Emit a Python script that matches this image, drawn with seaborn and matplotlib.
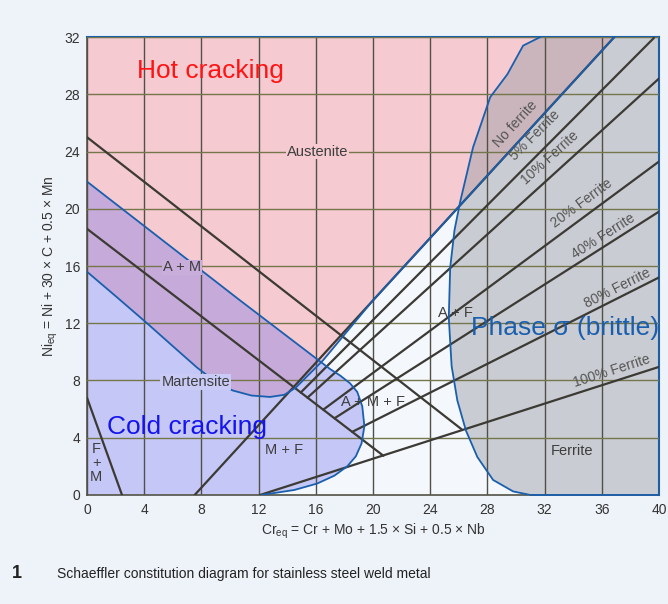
import numpy as np
import pandas as pd
import matplotlib
matplotlib.use('Agg')
import matplotlib.pyplot as plt
import seaborn as sns

# axis ticks
cr_ticks = list(range(0, 41, 4))
ni_ticks = list(range(0, 33, 4))

# phase boundary lines (start / end points, Cr_eq, Ni_eq)
bnd_names = ['A / A+M', 'A+M / M', 'F+M']
bnd_x0 = [0.0, 0.0, 0.0]
bnd_y0 = [25.0, 18.6, 6.8]
bnd_x1 = [26.2, 20.73, 2.45]
bnd_y1 = [4.59, 2.74, 0.0]

# iso-ferrite lines
fer_names = ['No ferrite', '5% Ferrite', '10% Ferrite', '20% Ferrite',
             '40% Ferrite', '80% Ferrite', '100% Ferrite']
fer_x0 = [7.53, 14.95, 15.42, 16.52, 17.31, 18.55, 12.1]
fer_y0 = [0.0, 7.16, 6.80, 5.96, 5.36, 4.41, 0.0]
fer_x1 = [36.88, 39.65, 40.0, 40.0, 40.0, 40.0, 40.0]
fer_y1 = [32.0, 31.94, 29.1, 23.3, 19.8, 15.2, 8.95]
# label centres
fer_lx = [29.95, 31.35, 32.4, 34.6, 36.1, 37.1, 36.7]
fer_ly = [25.9, 25.1, 23.55, 20.4, 18.1, 14.45, 8.65]

# hot cracking (austenite) zone outline
hot_x = [0, 36.88, 20.0, 16.5, 15.4, 14.6, 13.8, 12.8, 11.5, 10.2, 9.0, 7.7, 6.0, 4.2, 2.0, 0]
hot_y = [32, 32, 13.6, 9.4, 8.3, 7.5, 7.0, 6.85, 6.95, 7.3, 7.9, 8.9, 10.4, 12.0, 13.9, 15.6]

# cold cracking zone outline
cold_x = [0, 0, 10.7, 17.0, 17.7, 18.4, 18.9, 19.25, 19.4, 19.2, 18.8, 18.2, 17.3, 16.1, 14.5, 12.2]
cold_y = [0, 21.9, 13.6, 8.8, 8.35, 7.8, 7.2, 6.2, 4.8, 3.6, 2.7, 2.0, 1.35, 0.8, 0.35, 0]

# sigma phase zone outline
sig_x = [31.7, 40, 40, 31.0, 29.8, 28.4, 27.3, 26.5, 25.9, 25.5, 25.3, 25.4, 25.7, 26.1, 27.0, 28.2, 29.4, 30.5]
sig_y = [32, 32, 0, 0, 0.25, 1.05, 2.65, 4.5, 6.6, 9.0, 12.4, 15.9, 18.5, 20.5, 24.3, 27.8, 29.4, 31.4]

sns.set_theme(style='white')
plt.rcParams['font.family'] = ['Liberation Sans', 'DejaVu Sans']

fig = plt.figure(figsize=(6.68, 6.04), dpi=100, facecolor='#eef3f9')
ax = fig.add_axes([0.1302, 0.1805, 0.8563, 0.7582])
ax.set_facecolor('#f4f7fc')
ax.set_xlim(0, 40)
ax.set_ylim(0, 32)

blue = '#1a5fae'
dark = '#3c3a34'

# zones
ax.fill(hot_x, hot_y, color='#f5cad0', lw=0, zorder=1)
ax.fill(sig_x, sig_y, color='#9a9fa6', alpha=0.48, lw=0, zorder=1.2)
ax.fill(cold_x, cold_y, color='#7474ee', alpha=0.36, lw=0, zorder=1.4)

# grid
ax.set_xticks(cr_ticks)
ax.set_yticks(ni_ticks)
ax.set_axisbelow(False)
ax.xaxis.grid(True, color='#505048', lw=1.0)
ax.yaxis.grid(True, color='#76764c', lw=1.0)

# phase lines
bnd = pd.DataFrame({'line': bnd_names * 2,
                    'x': bnd_x0 + bnd_x1, 'y': bnd_y0 + bnd_y1})
sns.lineplot(data=bnd, x='x', y='y', units='line', estimator=None, sort=False,
             color=dark, lw=1.6, ax=ax, zorder=3)
fer = pd.DataFrame({'line': fer_names * 2,
                    'x': fer_x0 + fer_x1, 'y': fer_y0 + fer_y1})
sns.lineplot(data=fer, x='x', y='y', units='line', estimator=None, sort=False,
             color=dark, lw=1.6, ax=ax, zorder=3)

# zone outlines
ax.plot(hot_x[1:], hot_y[1:], color=blue, lw=1.3, zorder=4)
ax.plot(cold_x[1:], cold_y[1:], color=blue, lw=1.3, zorder=4)
ax.plot(sig_x[3:] + sig_x[:1], sig_y[3:] + sig_y[:1], color=blue, lw=1.3, zorder=4)
ax.plot([31.0, 40], [0, 0], color=blue, lw=1.3, zorder=4, clip_on=False)

# ferrite labels along lines
for name, x0, y0, x1, y1, lx, ly in zip(fer_names, fer_x0, fer_y0, fer_x1, fer_y1, fer_lx, fer_ly):
    p0 = ax.transData.transform((x0, y0))
    p1 = ax.transData.transform((x1, y1))
    ang = np.degrees(np.arctan2(p1[1] - p0[1], p1[0] - p0[0]))
    ax.text(lx, ly, name, rotation=ang, rotation_mode='anchor', ha='center', va='center',
            fontsize=10, color='#555555', zorder=5)

lab = dict(fontsize=10.5, color='#3d3d3d', ha='center', va='center', zorder=5)
ax.text(16.1, 24.0, 'Austenite', bbox=dict(fc='#f5cad0', ec='none', pad=0.6), **lab)
ax.text(6.63, 15.9, 'A + M', bbox=dict(fc='#c9addb', ec='none', pad=0.6), **lab)
ax.text(7.6, 7.9, 'Martensite', bbox=dict(fc='#c9cbf6', ec='none', pad=0.6), **lab)
ax.text(20.0, 6.5, 'A + M + F', **lab)
ax.text(13.8, 3.15, 'M + F', **lab)
ax.text(25.8, 12.7, 'A + F', **lab)
ax.text(33.95, 3.1, 'Ferrite', **lab)
ax.text(0.65, 2.25, 'F\n+\nM', linespacing=1.0, **lab)

ax.text(8.6, 29.6, 'Hot cracking', color='#ff1414', fontsize=19, ha='center', va='center', zorder=6)
ax.text(7.0, 4.75, 'Cold cracking', color='#1414ee', fontsize=19, ha='center', va='center', zorder=6)
ax.text(33.4, 11.7, 'Phase σ (brittle)', color=blue, fontsize=19, ha='center', va='center', zorder=6)

ax.tick_params(length=0, labelsize=10, colors='#333333')
ax.tick_params(axis='x', pad=6)
ax.tick_params(axis='y', pad=5)
ax.set_xlabel(r'Cr$\mathregular{_{eq}}$ = Cr + Mo + 1.5 × Si + 0.5 × Nb', fontsize=10, color='#333333', labelpad=3)
ax.set_ylabel(r'Ni$\mathregular{_{eq}}$ = Ni + 30 × C + 0.5 × Mn', fontsize=10, color='#333333', labelpad=3)

for side in ['top', 'right']:
    ax.spines[side].set_color(blue)
    ax.spines[side].set_linewidth(1.5)
for side in ['left', 'bottom']:
    ax.spines[side].set_color('#505048')
    ax.spines[side].set_linewidth(1.2)

fig.text(0.018, 0.0497, '1', fontsize=13, fontweight='bold', color='#222222', va='center')
fig.text(0.0853, 0.0497, 'Schaeffler constitution diagram for stainless steel weld metal',
         fontsize=10, color='#222222', va='center', family=['Liberation Sans Narrow', 'Liberation Sans'])

fig.savefig('out.png', dpi=100, facecolor=fig.get_facecolor())
